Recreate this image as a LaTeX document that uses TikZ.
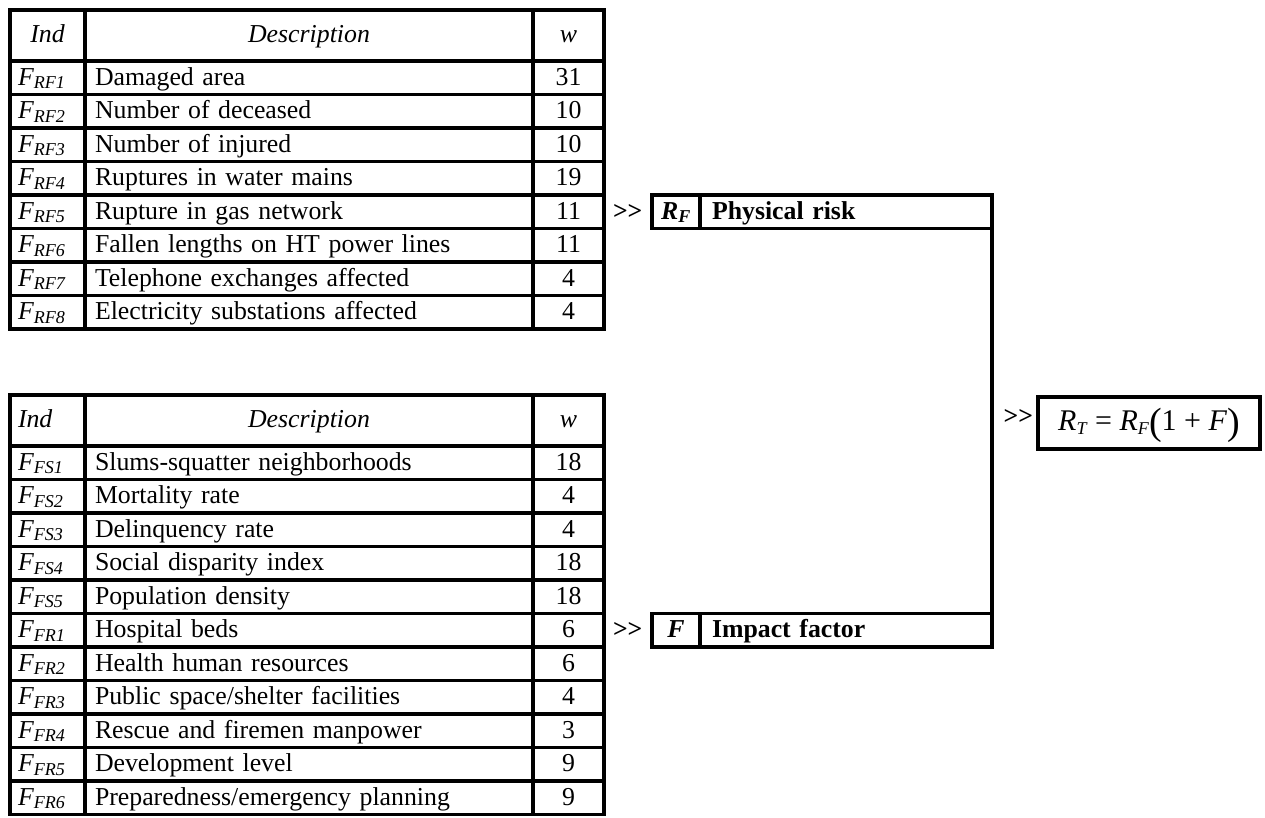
\documentclass[tikz,border=0pt]{standalone}
\usepackage{fontspec}
\setmainfont{Liberation Serif}
\usetikzlibrary{positioning, calc}

\begin{document}
\fontsize{25.8}{30}\selectfont
\begin{tikzpicture}[x=1pt, y=-1pt, node distance=0pt, inner sep=0pt, outer sep=0pt,
    cell/.style={draw, line width=3.5pt, minimum height=33.5pt, text height=20pt, text depth=5pt},
    ind/.style={cell, text width=59pt, inner xsep=8pt, align=left},
    desc/.style={cell, text width=428pt, inner xsep=10pt, align=left},
    wt/.style={cell, minimum width=71pt, align=center},
    head/.style={minimum height=51pt, text height=22pt, text depth=8pt, font=\itshape},
    sym/.style={cell, minimum width=48pt, font=\bfseries\itshape},
    boxname/.style={cell, text width=268pt, inner xsep=12pt, align=left, font=\bfseries},
    gt/.style={font=\bfseries}]
\useasboundingbox (0,0) rectangle (1265,817);

% physical risk indicators
\node (hi) [ind, head, align=center, anchor=north west] at (10,10) {Ind};
\node (hd) [desc, head, align=center, right=of hi] {Description};
\node (hw) [wt, head, right=of hd] {w};
\node (rf1) [ind, below=of hi] {\textit{F\textsubscript{RF1}}}; \node (rf1d) [desc, right=of rf1] {Damaged area}; \node (rf1w) [wt, right=of rf1d] {31};
\node (rf2) [ind, below=of rf1] {\textit{F\textsubscript{RF2}}}; \node (rf2d) [desc, right=of rf2] {Number of deceased}; \node (rf2w) [wt, right=of rf2d] {10};
\node (rf3) [ind, below=of rf2] {\textit{F\textsubscript{RF3}}}; \node (rf3d) [desc, right=of rf3] {Number of injured}; \node (rf3w) [wt, right=of rf3d] {10};
\node (rf4) [ind, below=of rf3] {\textit{F\textsubscript{RF4}}}; \node (rf4d) [desc, right=of rf4] {Ruptures in water mains}; \node (rf4w) [wt, right=of rf4d] {19};
\node (rf5) [ind, below=of rf4] {\textit{F\textsubscript{RF5}}}; \node (rf5d) [desc, right=of rf5] {Rupture in gas network}; \node (rf5w) [wt, right=of rf5d] {11};
\node (rf6) [ind, below=of rf5] {\textit{F\textsubscript{RF6}}}; \node (rf6d) [desc, right=of rf6] {Fallen lengths on HT power lines}; \node (rf6w) [wt, right=of rf6d] {11};
\node (rf7) [ind, below=of rf6] {\textit{F\textsubscript{RF7}}}; \node (rf7d) [desc, right=of rf7] {Telephone exchanges affected}; \node (rf7w) [wt, right=of rf7d] {4};
\node (rf8) [ind, below=of rf7] {\textit{F\textsubscript{RF8}}}; \node (rf8d) [desc, right=of rf8] {Electricity substations affected}; \node (rf8w) [wt, right=of rf8d] {4};

% impact factor indicators
\node (hi2) [ind, head, anchor=north west] at (10,395) {Ind};
\node (hd2) [desc, head, align=center, right=of hi2] {Description};
\node (hw2) [wt, head, right=of hd2] {w};
\node (fs1) [ind, below=of hi2] {\textit{F\textsubscript{FS1}}}; \node (fs1d) [desc, right=of fs1] {Slums-squatter neighborhoods}; \node (fs1w) [wt, right=of fs1d] {18};
\node (fs2) [ind, below=of fs1] {\textit{F\textsubscript{FS2}}}; \node (fs2d) [desc, right=of fs2] {Mortality rate}; \node (fs2w) [wt, right=of fs2d] {4};
\node (fs3) [ind, below=of fs2] {\textit{F\textsubscript{FS3}}}; \node (fs3d) [desc, right=of fs3] {Delinquency rate}; \node (fs3w) [wt, right=of fs3d] {4};
\node (fs4) [ind, below=of fs3] {\textit{F\textsubscript{FS4}}}; \node (fs4d) [desc, right=of fs4] {Social disparity index}; \node (fs4w) [wt, right=of fs4d] {18};
\node (fs5) [ind, below=of fs4] {\textit{F\textsubscript{FS5}}}; \node (fs5d) [desc, right=of fs5] {Population density}; \node (fs5w) [wt, right=of fs5d] {18};
\node (fr1) [ind, below=of fs5] {\textit{F\textsubscript{FR1}}}; \node (fr1d) [desc, right=of fr1] {Hospital beds}; \node (fr1w) [wt, right=of fr1d] {6};
\node (fr2) [ind, below=of fr1] {\textit{F\textsubscript{FR2}}}; \node (fr2d) [desc, right=of fr2] {Health human resources}; \node (fr2w) [wt, right=of fr2d] {6};
\node (fr3) [ind, below=of fr2] {\textit{F\textsubscript{FR3}}}; \node (fr3d) [desc, right=of fr3] {Public space/shelter facilities}; \node (fr3w) [wt, right=of fr3d] {4};
\node (fr4) [ind, below=of fr3] {\textit{F\textsubscript{FR4}}}; \node (fr4d) [desc, right=of fr4] {Rescue and firemen manpower}; \node (fr4w) [wt, right=of fr4d] {3};
\node (fr5) [ind, below=of fr4] {\textit{F\textsubscript{FR5}}}; \node (fr5d) [desc, right=of fr5] {Development level}; \node (fr5w) [wt, right=of fr5d] {9};
\node (fr6) [ind, below=of fr5] {\textit{F\textsubscript{FR6}}}; \node (fr6d) [desc, right=of fr6] {Preparedness/emergency planning}; \node (fr6w) [wt, right=of fr6d] {9};

% results
\node (gt1) [gt, right=9pt of rf5w] {>{}>};
\node (rf) [sym, right=48pt of rf5w] {R\textsubscript{F}};
\node (pr) [boxname, right=of rf] {Physical risk};
\node (gt2) [gt, right=9pt of fr1w] {>{}>};
\node (f) [sym, right=48pt of fr1w] {F};
\node (imp) [boxname, right=of f] {Impact factor};
\draw [line width=3.5pt] (pr.south east) -- (imp.north east);
\coordinate (mid) at ($(pr.south east)!0.5!(imp.north east)$);
\node (rt) [cell, minimum width=222pt, minimum height=52pt, text height=24pt, text depth=9pt,
    font=\fontsize{30}{36}\selectfont, right=46pt of mid, yshift=-2pt]
    {\textit{R}\raisebox{-4pt}{\fontsize{18}{18}\selectfont\textit{T}} = \textit{R}\raisebox{-4pt}{\fontsize{18}{18}\selectfont\textit{F}}\raisebox{-4pt}{\fontsize{38}{38}\selectfont(}1 + \textit{F}\raisebox{-4pt}{\fontsize{38}{38}\selectfont)}};
\node (gt3) [gt, left=5pt of rt, yshift=6pt] {>{}>};
\end{tikzpicture}
\end{document}
